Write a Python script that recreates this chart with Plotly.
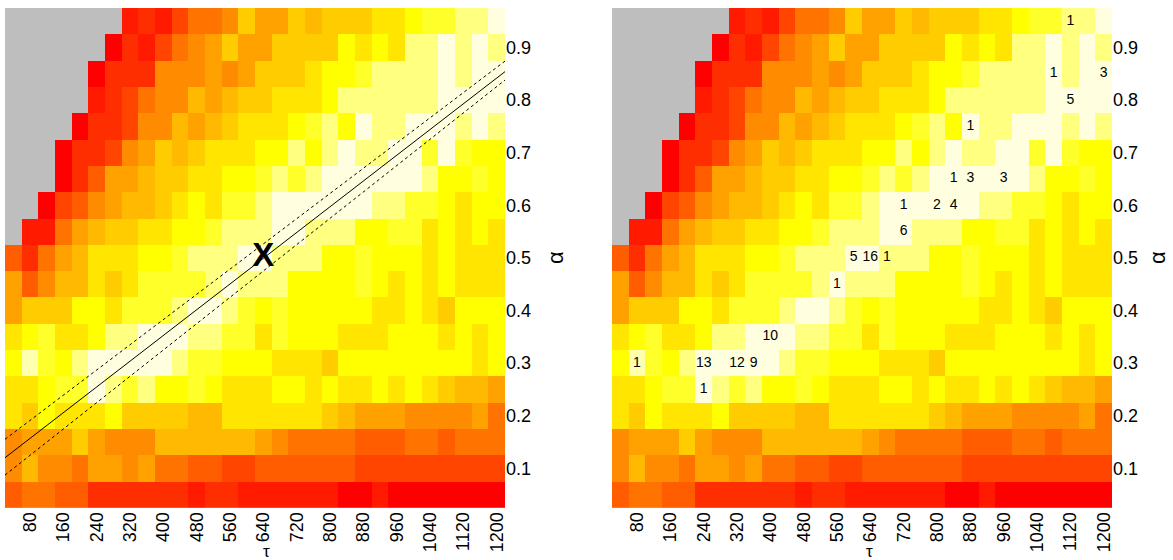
import plotly.graph_objects as go

# ---------------- data ----------------
tau = [40 * (i + 1) for i in range(30)]                 # 40 .. 1200
alpha_desc = [round(0.95 - 0.05 * i, 2) for i in range(19)]  # 0.95 .. 0.05 (top to bottom)
N = None
# colour level of each cell (0 = red ... 15 = pale yellow), rows from alpha=0.95 down to 0.05
level_rows = [
    [N,N,N,N,N,N,N, 1,2,1,3,5,5,6,9, 7,7,9,8,9,9,9,10,10,11,12,12,13,13,15],
    [N,N,N,N,N,N, 0,2,1,3,5,6,7,9,7, 7,9,9,9,9,11,10,11,10,13,13,15,13,15,13],
    [N,N,N,N,N, 0,2,2,2,6,6,6,7,6,7, 9,9,9,10,11,11,12,13,13,13,13,15,13,15,15],
    [N,N,N,N,N, 1,2,3,5,6,6,8,7,8,9, 9,10,10,10,11,13,13,13,13,13,13,15,15,15,15],
    [N,N,N,N, 0,2,2,3,6,6,8,7,8,9,10, 10,10,11,12,13,11,15,13,13,15,15,15,13,15,13],
    [N,N,N, 0,2,2,3,6,7,9,8,9,10,10,10, 11,11,13,11,13,15,13,13,15,15,12,15,12,11,11],
    [N,N,N, 0,2,4,7,7,8,9,9,10,10,11,11, 12,13,12,13,15,15,15,15,15,15,13,11,11,12,11],
    [N,N, 0,3,4,6,7,8,8,9,10,11,10,12,12, 13,15,15,15,15,15,15,13,13,12,12,11,10,11,11],
    [N, 1,1,5,7,8,9,9,10,10,11,11,12,13,13, 13,15,15,13,13,13,11,11,12,12,10,11,10,11,10],
    [4,2,5,7,8,10,10,10,11,11,12,13,13,13,15, 15,13,13,13,11,11,12,11,11,11,10,11,10,10,10],
    [7,4,6,8,8,10,9,10,12,12,12,12,13,15,13, 13,13,11,11,11,11,12,11,10,11,10,11,10,10,10],
    [7,9,9,9,11,11,10,12,12,12,13,15,15,13,12, 11,12,11,11,11,11,11,10,10,11,10,9,11,11,11],
    [10,11,12,10,10,11,13,13,15,15,15,13,13,12,12, 10,12,11,11,11,10,10,10,11,11,11,10,11,10,11],
    [11,14,12,11,13,15,15,15,15,15,13,12,12,11,11, 11,10,10,10,9,11,11,11,11,11,11,11,11,10,11],
    [10,10,11,12,12,15,13,12,13,11,11,12,11,10,10, 10,11,11,10,11,10,10,11,10,11,10,9,8,8,7],
    [10,9,11,10,10,10,11,9,9,9,9,8,8,10,10, 10,10,10,10,9,8,7,7,7,6,6,6,6,7,5],
    [6,7,7,7,9,7,6,6,6,8,8,8,8,8,8, 7,6,5,5,5,5,4,4,4,5,5,4,5,5,5],
    [6,8,6,6,5,7,7,6,7,5,5,4,4,3,3, 4,4,4,4,4,4,3,3,3,3,3,3,3,3,3],
    [4,5,5,4,4,2,2,2,2,2,2,1,2,2,1, 1,1,1,1,1,0,0,1,0,0,0,0,0,0,0],
]
palette = ["#FF0000", "#FF1A00", "#FF2E00", "#FF4500", "#FF5D00", "#FF7400",
           "#FF8B00", "#FFA200", "#FFB900", "#FFCC00", "#FFE500", "#FFFF00",
           "#FFFF2A", "#FFFF80", "#FFFFB0", "#FFFFE0"]

# fitted line and band on the left panel
line_tau = [20, 1220]
line_alpha = [0.120, 0.854]
band_upper = [0.155, 0.874]
band_lower = [0.087, 0.838]
mark_tau, mark_alpha = 640, 0.5

# counts shown on the right panel
count_tau = [1120, 1080, 1200, 1120, 880, 840, 880, 960, 720, 800, 840, 720,
             600, 640, 680, 560, 400, 80, 240, 320, 360, 240]
count_alpha = [0.95, 0.85, 0.85, 0.80, 0.75, 0.65, 0.65, 0.65, 0.60, 0.60, 0.60, 0.55,
               0.50, 0.50, 0.50, 0.45, 0.35, 0.30, 0.30, 0.30, 0.30, 0.25]
count_text = ["1", "1", "3", "5", "1", "1", "3", "3", "1", "2", "4", "6",
              "5", "16", "1", "1", "10", "1", "13", "12", "9", "1"]

x_ticks = list(range(80, 1201, 80))
y_ticks = [0.1, 0.2, 0.3, 0.4, 0.5, 0.6, 0.7, 0.8, 0.9]

# ---------------- figure ----------------
W, H = 1173, 560
FONT = "Liberation Sans, Arial, Helvetica, sans-serif"
alpha_asc = alpha_desc[::-1]
z_asc = level_rows[::-1]

nlev = len(palette)
cscale = []
for i, c in enumerate(palette):
    cscale.append([i / nlev, c])
    cscale.append([(i + 1) / nlev, c])

fig = go.Figure()
for k, xa, ya in [(0, "x", "y"), (1, "x2", "y2")]:
    fig.add_trace(go.Heatmap(x=tau, y=alpha_asc, z=z_asc, colorscale=cscale,
                             zmin=-0.5, zmax=nlev - 0.5, showscale=False,
                             xaxis=xa, yaxis=ya, hoverongaps=False))

fig.add_trace(go.Scatter(x=line_tau, y=line_alpha, mode="lines",
                         line=dict(color="black", width=1), xaxis="x", yaxis="y", showlegend=False))
for b in (band_upper, band_lower):
    fig.add_trace(go.Scatter(x=line_tau, y=b, mode="lines",
                             line=dict(color="black", width=1, dash="3px,3px"),
                             xaxis="x", yaxis="y", showlegend=False))
fig.add_trace(go.Scatter(x=[mark_tau], y=[mark_alpha], mode="text", text=["<b>X</b>"],
                         textposition="middle center",
                         textfont=dict(family=FONT, size=33, color="black"),
                         xaxis="x", yaxis="y", showlegend=False))
fig.add_trace(go.Scatter(x=count_tau, y=count_alpha, mode="text", text=count_text,
                         textposition="middle center",
                         textfont=dict(family=FONT, size=14, color="black"),
                         xaxis="x2", yaxis="y2", showlegend=False))

ydom = [1 - 507.7 / H, 1 - 8 / H]
xdoms = [[5 / W, 505 / W], [612 / W, 1112 / W]]
common_x = dict(range=[20, 1220], tickvals=x_ticks, ticktext=[str(v) for v in x_ticks],
                tickangle=-90, ticks="", showgrid=False, zeroline=False, showline=False,
                tickfont=dict(family=FONT, size=18, color="black"), fixedrange=True,
                automargin=False)
common_y = dict(range=[0.025, 0.975], tickvals=y_ticks, ticktext=[f"{v:.1f}" for v in y_ticks],
                side="right", ticks="", showgrid=False, zeroline=False, showline=False,
                tickfont=dict(family=FONT, size=18, color="black"), fixedrange=True,
                domain=ydom, automargin=False)

fig.update_layout(
    width=W, height=H, margin=dict(l=0, r=0, t=0, b=0, autoexpand=False),
    paper_bgcolor="white", plot_bgcolor="#BEBEBE", showlegend=False,
    xaxis=dict(common_x, domain=xdoms[0], anchor="y"),
    yaxis=dict(common_y, anchor="x"),
    xaxis2=dict(common_x, domain=xdoms[1], anchor="y2"),
    yaxis2=dict(common_y, anchor="x2"),
)

annots = []
for xp in (266, 869):
    annots.append(dict(text="τ", xref="paper", yref="paper", x=xp / W, y=1 - 551 / H,
                       xanchor="center", yanchor="middle", showarrow=False,
                       font=dict(family=FONT, size=17, color="black")))
for xp in (556, 1158):
    annots.append(dict(text="α", xref="paper", yref="paper", x=xp / W, y=1 - 258 / H,
                       xanchor="center", yanchor="middle", textangle=-90, showarrow=False,
                       font=dict(family=FONT, size=22, color="black")))
fig.update_layout(annotations=annots)

fig.write_html("out.html", config={"displayModeBar": False},
               post_script="document.body.style.margin='0';document.body.style.overflow='hidden';")
